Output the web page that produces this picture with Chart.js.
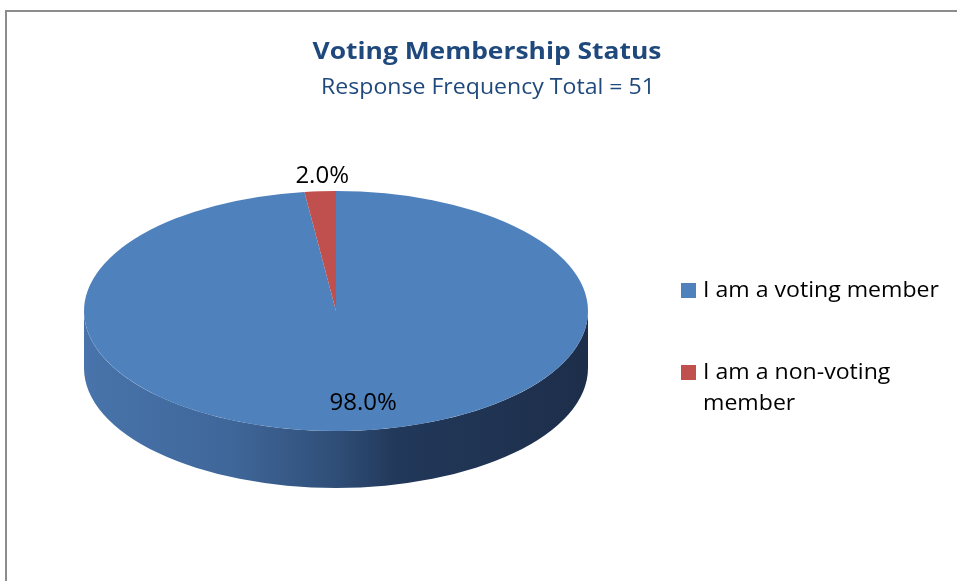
<!DOCTYPE html>
<html lang="en">
<head>
<meta charset="UTF-8">
<title>Voting Membership Status</title>
<script src="https://cdn.jsdelivr.net/npm/chart.js"></script>
<style>
  html, body { margin: 0; padding: 0; background: #fff; }
  canvas { display: block; }
</style>
</head>
<body>
<canvas id="pieChart" width="957" height="581"></canvas>
<script>
const statusLabels = ['I am a voting member', 'I am a non-voting member'];
const statusPercent = [98.0, 2.0];
const chartTitle = 'Voting Membership Status';
const chartSubtitle = 'Response Frequency Total = 51';

const sliceColors = ['#4f81bd', '#c0504d'];
// shading of the rim, light on the left and dark on the right
const rimStops = [
  [[0, '#4874ab'], [0.3, '#3f6699'], [0.5, '#2f4e77'], [0.62, '#22385a'], [1, '#1d2e4a']],
  [[0, '#c0504d'], [0.5, '#8a3533'], [1, '#5a2221']]
];
const tilt = 0.476;   // vertical squash of the top face
const depth = 57;     // thickness of the rim in px
const textStretch = 1.1;
const fontFamily = '"Open Sans", Lato, sans-serif';

const pie3d = {
  id: 'pie3d',
  beforeDatasetsDraw(chart) {
    const ctx = chart.ctx;
    const arcs = chart.getDatasetMeta(0).data;
    const { x, y, outerRadius: rx } = arcs[0];
    const ry = rx * tilt;

    // front rim: only the part of each slice between 0 and PI faces the viewer
    ctx.save();
    arcs.forEach((arc, i) => {
      for (const base of [-2 * Math.PI, 0, 2 * Math.PI]) {
        const a = Math.max(arc.startAngle, base);
        const b = Math.min(arc.endAngle, base + Math.PI);
        if (a >= b) continue;
        const g = ctx.createLinearGradient(x - rx, 0, x + rx, 0);
        rimStops[i].forEach(([p, c]) => g.addColorStop(p, c));
        ctx.beginPath();
        ctx.ellipse(x, y, rx, ry, 0, a - base, b - base);
        ctx.ellipse(x, y + depth, rx, ry, 0, b - base, a - base, true);
        ctx.closePath();
        ctx.fillStyle = g;
        ctx.fill();
      }
    });
    ctx.restore();

    // squash the pie itself into an ellipse
    ctx.save();
    ctx.translate(x, y);
    ctx.scale(1, tilt);
    ctx.translate(-x, -y);
  },
  afterDatasetsDraw(chart) {
    chart.ctx.restore();
  }
};

function wideText(ctx, text, x, y) {
  ctx.save();
  ctx.translate(x, y);
  ctx.scale(textStretch, 1);
  ctx.fillText(text, 0, 0);
  ctx.restore();
}

const decorations = {
  id: 'decorations',
  beforeDraw(chart) {
    const ctx = chart.ctx;
    ctx.save();
    ctx.fillStyle = '#fff';
    ctx.fillRect(0, 0, chart.width, chart.height);
    ctx.strokeStyle = '#8c8c8c';
    ctx.lineWidth = 2;
    ctx.strokeRect(6, 11, chart.width + 20, chart.height + 20);
    ctx.restore();
  },
  afterDraw(chart) {
    const ctx = chart.ctx;
    const arcs = chart.getDatasetMeta(0).data;
    const { x, y, outerRadius: rx } = arcs[0];
    const ry = rx * tilt;
    const total = statusPercent.reduce((s, v) => s + v, 0);

    ctx.save();
    // titles
    ctx.textAlign = 'center';
    ctx.textBaseline = 'alphabetic';
    ctx.fillStyle = '#1f497d';
    ctx.font = 'bold 24px ' + fontFamily;
    wideText(ctx, chartTitle, 487, 59);
    ctx.font = '21px ' + fontFamily;
    wideText(ctx, chartSubtitle, 488, 94);

    // value labels
    ctx.fillStyle = '#000';
    ctx.font = '24px ' + fontFamily;
    arcs.forEach((arc, i) => {
      const mid = (arc.startAngle + arc.endAngle) / 2;
      const text = statusPercent[i].toFixed(1) + '%';
      if (statusPercent[i] / total < 0.05) {
        ctx.textBaseline = 'alphabetic';
        ctx.fillText(text, x + rx * Math.cos(mid) + 2, y + ry * Math.sin(mid) - 8);
      } else {
        ctx.textBaseline = 'middle';
        ctx.fillText(text, x + rx * 0.77 * Math.cos(mid) + 15, y + ry * 0.77 * Math.sin(mid));
      }
    });

    // legend
    ctx.textAlign = 'left';
    ctx.textBaseline = 'alphabetic';
    ctx.font = '21px ' + fontFamily;
    const boxX = 681, textX = 703, maxWidth = 244, lineH = 31;
    let baseY = 297;
    statusLabels.forEach((label, i) => {
      ctx.fillStyle = sliceColors[i];
      ctx.fillRect(boxX, baseY - 14, 15, 15);
      ctx.fillStyle = '#000';
      const lines = [];
      let line = '';
      label.split(' ').forEach(word => {
        const test = line ? line + ' ' + word : word;
        if (line && ctx.measureText(test).width * textStretch > maxWidth) {
          lines.push(line);
          line = word;
        } else {
          line = test;
        }
      });
      lines.push(line);
      lines.forEach((l, j) => wideText(ctx, l, textX, baseY + j * lineH));
      baseY += 82;
    });
    ctx.restore();
  }
};

new Chart(document.getElementById('pieChart').getContext('2d'), {
  type: 'pie',
  data: {
    labels: statusLabels,
    datasets: [{
      data: statusPercent,
      backgroundColor: sliceColors,
      borderWidth: 0
    }]
  },
  options: {
    responsive: false,
    animation: false,
    layout: { padding: { left: 84, right: 369, top: 59, bottom: 18 } },
    plugins: {
      legend: { display: false },
      title: { display: false },
      tooltip: { enabled: false }
    }
  },
  plugins: [pie3d, decorations]
});
</script>
</body>
</html>
